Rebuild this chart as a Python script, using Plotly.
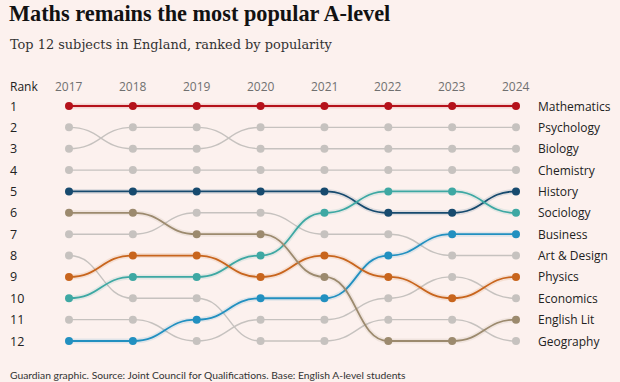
import plotly.graph_objects as go

years = [2017, 2018, 2019, 2020, 2021, 2022, 2023, 2024]
subjects = ["Mathematics", "Psychology", "Biology", "Chemistry", "History", "Sociology",
            "Business", "Art & Design", "Physics", "Economics", "English Lit", "Geography"]
ranks_mathematics = [1, 1, 1, 1, 1, 1, 1, 1]
ranks_psychology = [2, 3, 3, 2, 2, 2, 2, 2]
ranks_biology = [3, 2, 2, 3, 3, 3, 3, 3]
ranks_chemistry = [4, 4, 4, 4, 4, 4, 4, 4]
ranks_history = [5, 5, 5, 5, 5, 6, 6, 5]
ranks_sociology = [10, 9, 9, 8, 6, 5, 5, 6]
ranks_business = [12, 12, 11, 10, 10, 8, 7, 7]
ranks_art = [7, 7, 6, 6, 7, 7, 8, 8]
ranks_physics = [9, 8, 8, 9, 8, 9, 10, 9]
ranks_economics = [11, 11, 12, 11, 11, 10, 9, 10]
ranks_englit = [6, 6, 7, 7, 9, 12, 12, 11]
ranks_geography = [8, 10, 10, 12, 12, 11, 11, 12]
rank_labels = list(range(1, 13))

series = {
    "Mathematics": ranks_mathematics, "Psychology": ranks_psychology, "Biology": ranks_biology,
    "Chemistry": ranks_chemistry, "History": ranks_history, "Sociology": ranks_sociology,
    "Business": ranks_business, "Art & Design": ranks_art, "Physics": ranks_physics,
    "Economics": ranks_economics, "English Lit": ranks_englit, "Geography": ranks_geography,
}
GREY = "#c6c2bf"
colors = {
    "Mathematics": "#b5121b", "History": "#174a6e", "Sociology": "#3ea8a3",
    "Business": "#2290c0", "Physics": "#c8651d", "English Lit": "#9c8a6e",
}
BG = "#fcf1ee"

fig = go.Figure()
shapes = []
order = [s for s in subjects if s not in colors] + [s for s in subjects if s in colors]
for s in order:
    r = series[s]
    col = colors.get(s, GREY)
    path = f"M {years[0]},{r[0]}"
    for i in range(1, len(years)):
        xm = (years[i - 1] + years[i]) / 2
        path += f" C {xm},{r[i-1]} {xm},{r[i]} {years[i]},{r[i]}"
    if s in colors:
        shapes.append(dict(type="path", path=path, xref="x", yref="y", layer="below",
                           line=dict(color=col, width=5), opacity=0.12))
    shapes.append(dict(type="path", path=path, xref="x", yref="y", layer="below",
                       line=dict(color=col, width=1.8 if s in colors else 1.4)))

for s in order:
    col = colors.get(s, GREY)
    fig.add_trace(go.Scatter(x=years, y=series[s], mode="markers",
                             marker=dict(color=col, size=8, line=dict(width=0)),
                             showlegend=False, hoverinfo="skip"))

W, H = 620, 382
ann = []
def py(px):
    return 1 - px / H

ann.append(dict(text="<b>Maths remains the most popular A-level</b>", x=7 / W, y=py(13),
                xref="paper", yref="paper", xanchor="left", yanchor="middle", showarrow=False,
                font=dict(family="Liberation Serif", size=22.3, color="#121212")))
ann.append(dict(text="Top 12 subjects in England, ranked by popularity", x=8 / W, y=py(44),
                xref="paper", yref="paper", xanchor="left", yanchor="middle", showarrow=False,
                font=dict(family="DejaVu Serif", size=12.9, color="#333333")))
ann.append(dict(text="Rank", x=8 / W, y=py(87), xref="paper", yref="paper", xanchor="left",
                yanchor="middle", showarrow=False, font=dict(family="Open Sans", size=12, color="#222222")))
for yv in years:
    ann.append(dict(text=str(yv), x=yv, y=py(87), xref="x", yref="paper", xanchor="center",
                    yanchor="middle", showarrow=False,
                    font=dict(family="Open Sans", size=12, color="#707070")))
for rk in rank_labels:
    ann.append(dict(text=str(rk), x=8 / W, y=rk, xref="paper", yref="y", xanchor="left",
                    yanchor="middle", showarrow=False,
                    font=dict(family="Open Sans", size=12.5, color="#222222")))
for s in subjects:
    ann.append(dict(text=s, x=536 / W, y=series[s][-1], xref="paper", yref="y", xanchor="left",
                    yanchor="middle", showarrow=False,
                    font=dict(family="Open Sans", size=12, color="#222222")))
ann.append(dict(text="Guardian graphic. Source: Joint Council for Qualifications. Base: English A-level students",
                x=8 / W, y=py(375), xref="paper", yref="paper", xanchor="left", yanchor="middle",
                showarrow=False, font=dict(family="Lato", size=10.3, color="#333333")))

pxy = (516 - 69) / 7
pr = (341 - 106) / 11
fig.update_layout(
    width=W, height=H, margin=dict(l=0, r=0, t=0, b=0),
    paper_bgcolor=BG, plot_bgcolor=BG,
    xaxis=dict(range=[2017 - 69 / pxy, 2017 + (W - 69) / pxy], visible=False, fixedrange=True),
    yaxis=dict(range=[1 + (H - 106) / pr, 1 - 106 / pr], visible=False, fixedrange=True),
    shapes=shapes, annotations=ann,
)
fig.write_html("out.html", config={"displayModeBar": False},
               post_script="document.body.style.margin='0';document.body.style.overflow='hidden';")
